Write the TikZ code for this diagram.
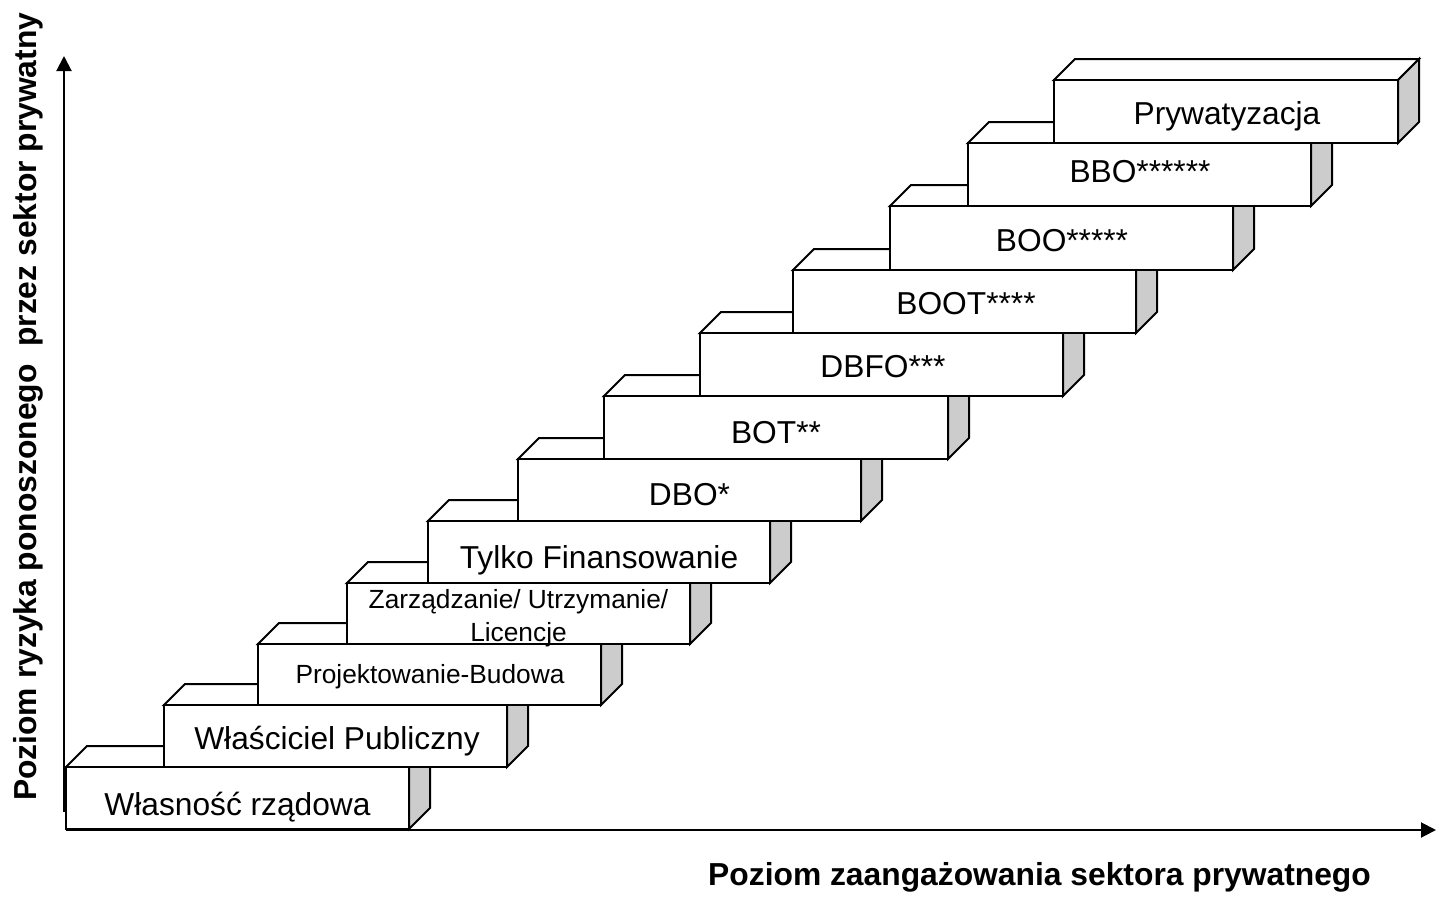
\documentclass[tikz,border=0pt]{standalone}
\usepackage{fontspec}
\setmainfont{Liberation Sans}
\usetikzlibrary{arrows.meta}
\tikzset{
  front/.style={draw, fill=white, line width=2pt, rectangle, inner sep=0pt, outer sep=0pt, anchor=north west},
  topface/.style={draw, fill=white, line width=2pt, line join=miter},
  sideface/.style={draw, fill=black!20, line width=2pt, line join=miter},
  biglbl/.style={anchor=base, inner sep=0pt, font=\fontsize{31.7pt}{38pt}\selectfont},
  smalllbl/.style={anchor=base, inner sep=0pt, font=\fontsize{26.3pt}{30pt}\selectfont},
  axislbl/.style={anchor=base west, inner sep=0pt, font=\fontsize{31.8pt}{38pt}\selectfont\bfseries},
  axis/.style={line width=2pt, -{Triangle[length=15pt,width=15pt]}}
}
% \cuboid{name}{x left}{y top}{width}{height}
\newcommand{\cuboid}[5]{%
  \draw[topface] (#2,#3) -- ++(21,-21) -- ++(#4,0) -- ++(-21,21) -- cycle;
  \draw[sideface] (#2+#4,#3) -- ++(21,-21) -- ++(0,#5) -- ++(-21,21) -- cycle;
  \node[front, minimum width=#4pt, minimum height=#5pt] (#1) at (#2,#3) {};
}
\begin{document}
\begin{tikzpicture}[x=1pt,y=-1pt]
\useasboundingbox (0,0) rectangle (1437,900);

% axes
\coordinate (yo) at (64,812);
\coordinate (yt) at (64,56);
\coordinate (xo) at (66,830);
\coordinate (xt) at (1436,830);
\draw[axis] (yo) -- (yt);
\draw[axis] (xo) -- (xt);

% steps
\cuboid{b1}{66}{767}{343}{62}
\node[biglbl] (t1) at (237.5,815) {Własność rządowa};
\cuboid{b2}{164}{705}{343}{62}
\node[biglbl] (t2) at (337,749) {Właściciel Publiczny};
\cuboid{b3}{258}{644}{343}{61}
\node[smalllbl] (t3) at (430,683) {Projektowanie-Budowa};
\cuboid{b4}{347}{583}{343}{61}
\node[smalllbl] (t4a) at (518.5,608) {Zarządzanie/ Utrzymanie/};
\node[smalllbl] (t4b) at (518.5,641) {Licencje};
\cuboid{b5}{428}{521}{342}{62}
\node[biglbl] (t5) at (599,568) {Tylko Finansowanie};
\cuboid{b6}{518}{459}{343}{62}
\node[biglbl] (t6) at (689.5,505) {DBO*};
\cuboid{b7}{604}{396}{344}{63}
\node[biglbl] (t7) at (776,443) {BOT**};
\cuboid{b8}{700}{333}{363}{63}
\node[biglbl] (t8) at (883,377) {DBFO***};
\cuboid{b9}{793}{270}{343}{63}
\node[biglbl] (t9) at (966,314) {BOOT****};
\cuboid{b10}{890}{206}{343}{64}
\node[biglbl] (t10) at (1062,251) {BOO*****};
\cuboid{b11}{968}{143}{343}{63}
\node[biglbl] (t11) at (1140,182) {BBO******};
\cuboid{b12}{1054}{80}{344}{63}
\node[biglbl] (t12) at (1227,124) {Prywatyzacja};

% axis labels
\node[axislbl] (xl) at (708,885) {Poziom zaangażowania sektora prywatnego};
\node[axislbl, rotate=90] (yl) at (36,801) {Poziom ryzyka ponoszonego\ \ przez sektor prywatny};
\end{tikzpicture}
\end{document}
